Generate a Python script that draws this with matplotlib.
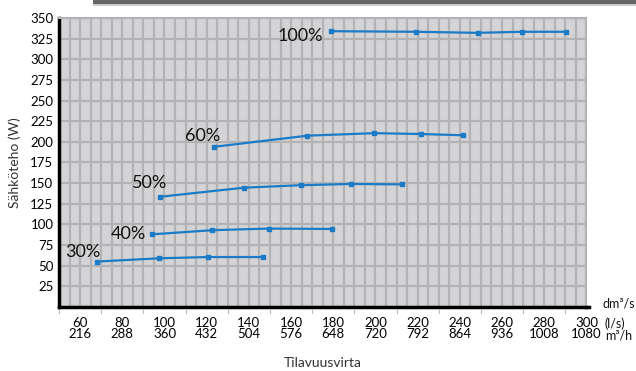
import matplotlib.pyplot as plt
from matplotlib.patches import Rectangle
from matplotlib.ticker import MultipleLocator

plt.rcParams['font.family'] = ['Lato', 'DejaVu Sans']

# flow (dm3/s) and power (W) for each fan speed
x30 = [67.9, 97.5, 120.5, 146.5]
y30 = [55, 59, 60.5, 60.5]
x40 = [93.9, 122.7, 149.5, 179.5]
y40 = [88, 93, 95, 94.5]
x50 = [97.9, 137.7, 164.7, 188.2, 212.4]
y50 = [133.5, 144.5, 147.5, 149, 148.5]
x60 = [123.5, 167.7, 199.3, 221.4, 241.3]
y60 = [194, 207.5, 210.5, 209.5, 208]
x100 = [178.8, 219.3, 248.4, 269.4, 290.3]
y100 = [334, 333.3, 332, 333.3, 333.3]

curves = [(x30, y30, '30%'), (x40, y40, '40%'), (x50, y50, '50%'),
          (x60, y60, '60%'), (x100, y100, '100%')]
label_pos = {'30%': (61.4, 66.6), '40%': (82.7, 88.4), '50%': (93.1, 150.1),
             '60%': (118.2, 207.3), '100%': (164.2, 328.4)}

ls_ticks = list(range(60, 301, 20))
mh_ticks = [216, 288, 360, 432, 504, 576, 648, 720, 792, 864, 936, 1008, 1080]
y_ticks = list(range(25, 351, 25))

blue = '#1b7bc6'
grid_c = '#b3b3b5'

fig = plt.figure(figsize=(6.36, 3.71), dpi=100)
ax = fig.add_axes([0.0928, 0.1725, 0.8292, 0.779])
ax.set_facecolor('#d4d4d6')

for xs, ys, name in curves:
    ax.plot(xs, ys, color=blue, lw=1.6, marker='s', ms=2.6, zorder=3)
    lx, ly = label_pos[name]
    ax.text(lx, ly, name, fontsize=13, color='#111111', ha='center', va='center')

ax.set_xlim(50, 300)
ax.set_ylim(0, 350)
ax.xaxis.set_minor_locator(MultipleLocator(5))
ax.yaxis.set_minor_locator(MultipleLocator(25))
ax.grid(True, which='both', color=grid_c, lw=1.6, zorder=0)
ax.set_axisbelow(True)

ax.set_yticks(y_ticks)
ax.set_yticklabels([str(v) for v in y_ticks], fontsize=9.5)
ax.tick_params(axis='y', which='both', length=0, pad=4)

ax.set_xticks(ls_ticks)
ax.set_xticklabels(['%d\n%d' % (a, b) for a, b in zip(ls_ticks, mh_ticks)],
                   fontsize=9.5, linespacing=0.95)
ax.tick_params(axis='x', which='major', length=0, pad=7)
ax.tick_params(axis='x', which='minor', length=0)

# small marks under the axis between the labels
for xv in range(50, 300, 20):
    ax.plot([xv, xv], [-4, -7], color='#bbbbbb', lw=0.8, clip_on=False)

for s in ['left', 'bottom']:
    ax.spines[s].set_linewidth(2.5)
    ax.spines[s].set_color('black')
for s in ['top', 'right']:
    ax.spines[s].set_linewidth(1.5)
    ax.spines[s].set_color(grid_c)
ax.plot([300, 301], [0, 0], color='black', lw=2.5, clip_on=False)

ax.set_ylabel('Sähköteho (W)', fontsize=10, color='#333333', labelpad=7)
fig.text(0.508, 0.012, 'Tilavuusvirta', fontsize=10, color='#333333', ha='center')
fig.text(0.948, 0.17, 'dm³/s', fontsize=9, color='#111111', ha='left')
fig.text(0.951, 0.085, '(l/s)\nm³/h', fontsize=9, color='#111111', ha='left',
         linespacing=0.95)

# header bar at the top
fig.patches.append(Rectangle((0.146, 0.99), 0.86, 0.012, transform=fig.transFigure,
                             color='#666666', lw=0))
fig.patches.append(Rectangle((0.146, 0.985), 0.86, 0.005, transform=fig.transFigure,
                             color='#cccccc', lw=0))

fig.savefig('out.png')
